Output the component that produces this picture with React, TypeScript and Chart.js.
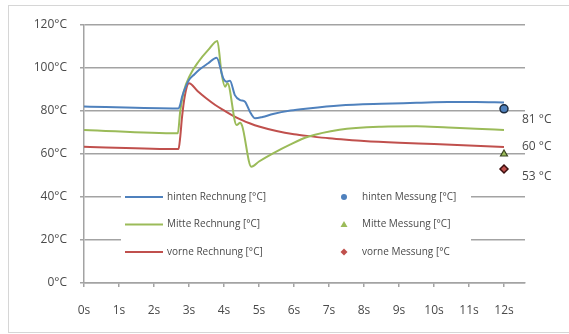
import React, { useEffect, useRef } from "react";
import { Chart, registerables } from "chart.js";
Chart.register(...registerables);

// ---- data ----
const xTickValues = [0, 1, 2, 3, 4, 5, 6, 7, 8, 9, 10, 11, 12];
const xTickLabels = ["0s", "1s", "2s", "3s", "4s", "5s", "6s", "7s", "8s", "9s", "10s", "11s", "12s"];
const yTickValues = [0, 20, 40, 60, 80, 100, 120];
const yTickLabels = ["0°C", "20°C", "40°C", "60°C", "80°C", "100°C", "120°C"];

const hintenZeit = [0, 2.7, 2.75, 2.8, 2.9, 3.0, 3.15, 3.3, 3.55, 3.79, 3.98, 4.08, 4.17, 4.31, 4.46, 4.6, 4.74, 4.89, 5.1, 5.4, 5.9, 6.4, 7.3, 8.5, 9.5, 10.4, 11.2, 12];
const hintenRechnung = [82.1, 81.2, 83, 86.5, 91, 94.4, 97, 99.3, 102.2, 104.8, 95.2, 93.6, 94.1, 87.4, 85.1, 84.3, 79.7, 76.6, 77.2, 78.6, 80.2, 81.2, 82.6, 83.4, 83.8, 84.2, 84.2, 84.0];

const mitteZeit = [0, 2.68, 2.75, 2.85, 3.03, 3.27, 3.55, 3.81, 3.93, 4.03, 4.1, 4.36, 4.46, 4.52, 4.78, 5.0, 5.4, 5.9, 6.4, 7.3, 8.5, 9.5, 10.4, 11.2, 12];
const mitteRechnung = [71.2, 69.6, 80, 89, 96.7, 102.9, 108.4, 112.6, 97.5, 91.3, 92.9, 73.5, 74.5, 73, 54.1, 56.5, 60.3, 64.5, 68, 71.3, 72.7, 72.9, 72.3, 71.8, 71.2];

const vorneZeit = [0, 2.7, 2.75, 2.8, 2.88, 3.0, 3.25, 3.5, 3.75, 4.0, 4.25, 4.5, 4.75, 5.0, 5.5, 6.0, 6.5, 7.0, 7.5, 8.0, 9.0, 10.0, 11.0, 12];
const vorneRechnung = [63.4, 62.3, 68, 77, 87, 92.9, 89.2, 85.8, 82.8, 80.3, 77.9, 75.9, 74.2, 72.8, 70.7, 69.2, 68.2, 67.3, 66.6, 66.0, 65.2, 64.6, 63.9, 63.2];

const messZeit = [12];
const hintenMessung = [81];
const mitteMessung = [60];
const vorneMessung = [53];

const seriesLabels = [
  "hinten Rechnung [°C]",
  "Mitte Rechnung [°C]",
  "vorne Rechnung [°C]",
  "hinten Messung [°C]",
  "Mitte Messung [°C]",
  "vorne Messung [°C",
];

const BLUE = "#4F81BD";
const GREEN = "#9BBB59";
const RED = "#C0504D";
const GRID = "#a3a3a3";
const TEXT = "#4a4a4a";
const FONT = "'Open Sans', sans-serif";

const pts = (xs: number[], ys: number[]) => xs.map((x, i) => ({ x, y: ys[i] }));

const annotationOffsets = [11, -7, 8];

const overlayPlugin = {
  id: "overlay",
  afterDraw(chart: any) {
    const ctx = chart.ctx;
    const xs = chart.scales.x;
    const ys = chart.scales.y;
    const ds = chart.data.datasets;
    ctx.save();
    // legend box (inside plot)
    ctx.fillStyle = "#ffffff";
    ctx.fillRect(121, 182, 350, 82);
    ctx.font = `10px ${FONT}`;
    ctx.textBaseline = "middle";
    ctx.textAlign = "left";
    const rowY = [197, 224.5, 252];
    for (let i = 0; i < 3; i++) {
      const d = ds[i];
      ctx.strokeStyle = d.borderColor;
      ctx.lineWidth = 2;
      ctx.beginPath();
      ctx.moveTo(125, rowY[i]);
      ctx.lineTo(163, rowY[i]);
      ctx.stroke();
      ctx.fillStyle = TEXT;
      ctx.fillText(d.label, 167, rowY[i]);
    }
    for (let i = 3; i < 6; i++) {
      const d = ds[i];
      const cy = rowY[i - 3];
      const cx = 344;
      ctx.fillStyle = d.backgroundColor;
      ctx.beginPath();
      if (d.pointStyle === "circle") {
        ctx.arc(cx, cy, 3, 0, Math.PI * 2);
      } else if (d.pointStyle === "triangle") {
        ctx.moveTo(cx, cy - 3.5);
        ctx.lineTo(cx + 3.5, cy + 2.5);
        ctx.lineTo(cx - 3.5, cy + 2.5);
        ctx.closePath();
      } else {
        ctx.moveTo(cx, cy - 3.5);
        ctx.lineTo(cx + 3.5, cy);
        ctx.lineTo(cx, cy + 3.5);
        ctx.lineTo(cx - 3.5, cy);
        ctx.closePath();
      }
      ctx.fill();
      ctx.fillStyle = TEXT;
      ctx.fillText(d.label, 362, cy);
    }
    // value annotations
    ctx.font = `12px ${FONT}`;
    const mess = [hintenMessung[0], mitteMessung[0], vorneMessung[0]];
    mess.forEach((v, i) => {
      const px = xs.getPixelForValue(messZeit[0]) + 18;
      const py = ys.getPixelForValue(v) + annotationOffsets[i];
      ctx.fillStyle = TEXT;
      ctx.fillText(`${v} °C`, px, py);
    });
    ctx.restore();
  },
};

export default function App() {
  const ref = useRef<HTMLCanvasElement | null>(null);
  useEffect(() => {
    if (!ref.current) return;
    const chart = new Chart(ref.current, {
      type: "line",
      data: {
        datasets: [
          { label: seriesLabels[0], data: pts(hintenZeit, hintenRechnung), borderColor: BLUE, backgroundColor: BLUE, borderWidth: 2, pointRadius: 0, cubicInterpolationMode: "monotone" },
          { label: seriesLabels[1], data: pts(mitteZeit, mitteRechnung), borderColor: GREEN, backgroundColor: GREEN, borderWidth: 2, pointRadius: 0, cubicInterpolationMode: "monotone" },
          { label: seriesLabels[2], data: pts(vorneZeit, vorneRechnung), borderColor: RED, backgroundColor: RED, borderWidth: 2, pointRadius: 0, cubicInterpolationMode: "monotone" },
          { label: seriesLabels[3], data: pts(messZeit, hintenMessung), showLine: false, pointStyle: "circle", pointRadius: 4, backgroundColor: BLUE, borderColor: "#1d2b3d", borderWidth: 1.5 },
          { label: seriesLabels[4], data: pts(messZeit, mitteMessung), showLine: false, pointStyle: "triangle", pointRadius: 4, backgroundColor: GREEN, borderColor: "#3b4722", borderWidth: 1.2 },
          { label: seriesLabels[5], data: pts(messZeit, vorneMessung), showLine: false, pointStyle: "rectRot", pointRadius: 4, backgroundColor: RED, borderColor: "#3a0e0e", borderWidth: 1.5 },
        ] as any,
      },
      options: {
        responsive: false,
        animation: false,
        devicePixelRatio: 1,
        layout: { padding: { left: 0, right: 44, top: 25, bottom: 0 } },
        plugins: { legend: { display: false }, tooltip: { enabled: false } },
        scales: {
          x: {
            type: "linear",
            min: 0,
            max: 12.6,
            afterBuildTicks: (s: any) => { s.ticks = xTickValues.map((v) => ({ value: v })); },
            afterFit: (s: any) => { s.height = 51; },
            ticks: {
              callback: (_v: any, i: number) => xTickLabels[i],
              color: TEXT,
              font: { family: FONT, size: 12 },
              padding: 16,
              maxRotation: 0,
              autoSkip: false,
            },
            grid: { drawOnChartArea: false, drawTicks: true, tickLength: 4, color: GRID, lineWidth: 1.5 },
            border: { color: GRID, width: 1.5 },
          },
          y: {
            min: 0,
            max: 120,
            afterBuildTicks: (s: any) => { s.ticks = yTickValues.map((v) => ({ value: v })); },
            afterFit: (s: any) => { s.width = 84; },
            ticks: {
              callback: (_v: any, i: number) => yTickLabels[i],
              color: TEXT,
              font: { family: FONT, size: 12 },
              padding: 13,
            },
            grid: { color: GRID, lineWidth: 1.5, tickLength: 4 },
            border: { color: GRID, width: 1.5 },
          },
        },
      } as any,
      plugins: [overlayPlugin],
    });
    return () => chart.destroy();
  }, []);
  return (
    <div style={{ position: "absolute", left: 0, top: 0, width: 569, height: 334, overflow: "hidden", background: "#fff" }}>
      <div style={{ position: "absolute", left: 8, top: 5, width: 620, height: 326, border: "1px solid #d6d6d6", borderRight: "none" }} />
      <canvas ref={ref} width={569} height={334} style={{ position: "absolute", left: 0, top: 0 }} />
    </div>
  );
}
